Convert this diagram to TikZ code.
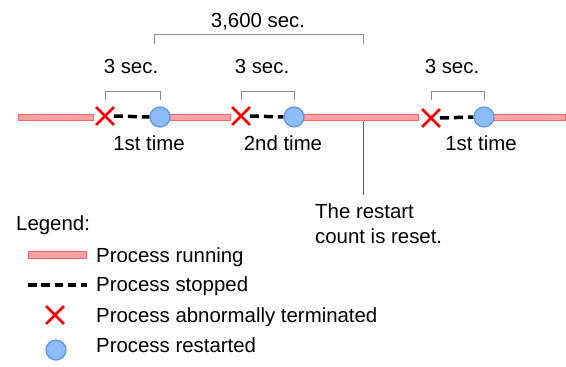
\documentclass[tikz,border=0pt]{standalone}
\usepackage{fontspec}
\setmainfont{Liberation Sans}
\usetikzlibrary{shapes.misc}
\definecolor{runfill}{HTML}{F7A3A3}
\definecolor{runborder}{HTML}{F06868}
\definecolor{cfill}{HTML}{8DBDF8}
\definecolor{cborder}{HTML}{5A98EC}
\definecolor{brk}{HTML}{8C8C8C}
\begin{document}
\begin{tikzpicture}[x=1pt,y=-1pt,
  every node/.style={font=\fontsize{20.4}{24}\selectfont, text=black},
  runbar/.style={draw=runborder, fill=runfill, line width=1pt},
  stopline/.style={line width=3.5pt, dash pattern=on 9pt off 5pt},
  xmark/.style={cross out, draw=red, line width=2.8pt, minimum size=15pt, inner sep=0pt},
  restart/.style={circle, draw=cborder, fill=cfill, line width=1.2pt, minimum size=20pt, inner sep=0pt},
  bracket/.style={draw=brk, line width=0.9pt},
  lbl/.style={anchor=base, inner sep=0pt},
  lblw/.style={anchor=base west, inner sep=0pt}]
\useasboundingbox (0,0) rectangle (566,367);
% running bars
\draw[runbar] (18,114) rectangle (93,120);
\draw[runbar] (165,114) rectangle (230,120);
\draw[runbar] (300,114) rectangle (418,120);
\draw[runbar] (480,114) rectangle (565,120);
% marks
\node[xmark] (x1) at (105,116) {};
\node[xmark] (x2) at (241,116) {};
\node[xmark] (x3) at (431,118) {};
\node[restart] (c1) at (160,117) {};
\node[restart] (c2) at (294,117) {};
\node[restart] (c3) at (484,117) {};
% stopped
\draw[stopline] (x1.east) -- (c1.west);
\draw[stopline] (x2.east) -- (c2.west);
\draw[stopline] (x3.east) -- (c3.west);
% 3 sec brackets
\draw[bracket] (x1 |- 0,100) -- (x1 |- 0,91) -- (c1 |- 0,91) -- (c1 |- 0,100);
\draw[bracket] (x2 |- 0,100) -- (x2 |- 0,91) -- (c2 |- 0,91) -- (c2 |- 0,100);
\draw[bracket] (x3 |- 0,100) -- (x3 |- 0,91) -- (c3 |- 0,91) -- (c3 |- 0,100);
\node[lbl] (s1) at (131,73) {3 sec.};
\node[lbl] (s2) at (262,73) {3 sec.};
\node[lbl] (s3) at (452,73) {3 sec.};
% 3600 bracket
\coordinate (bl) at (154,44);
\coordinate (br) at (363,44);
\draw[bracket] (bl) -- (154,34) -- (363,34) -- (br);
\node[lbl] (s3600) at (258,27) {3,600 sec.};
% reset line
\coordinate (rtop) at (363,121);
\coordinate (rbot) at (363,195);
\draw[bracket, draw=gray!70!black] (rtop) -- (rbot);
\node[lblw] (reset1) at (315,218) {The restart};
\node[lblw] (reset2) at (315,243) {count is reset.};
% time labels
\node[lbl] (t1) at (149,150) {1st time};
\node[lbl] (t2) at (283,150) {2nd time};
\node[lbl] (t3) at (481,150) {1st time};
% legend
\node[lblw] (leg) at (16,230) {Legend:};
\draw[runbar] (28,251) rectangle (86,258);
\node[lblw] (l1) at (96,262) {Process running};
\draw[stopline, dash pattern=on 8.5pt off 4.8pt] (28,285) -- (87,285);
\node[lblw] (l2) at (96,291) {Process stopped};
\node[xmark] (lx) at (55,315) {};
\node[lblw] (l3) at (96,322) {Process abnormally terminated};
\node[restart] (lc) at (56,350) {};
\node[lblw] (l4) at (96,352) {Process restarted};
\end{tikzpicture}
\end{document}
